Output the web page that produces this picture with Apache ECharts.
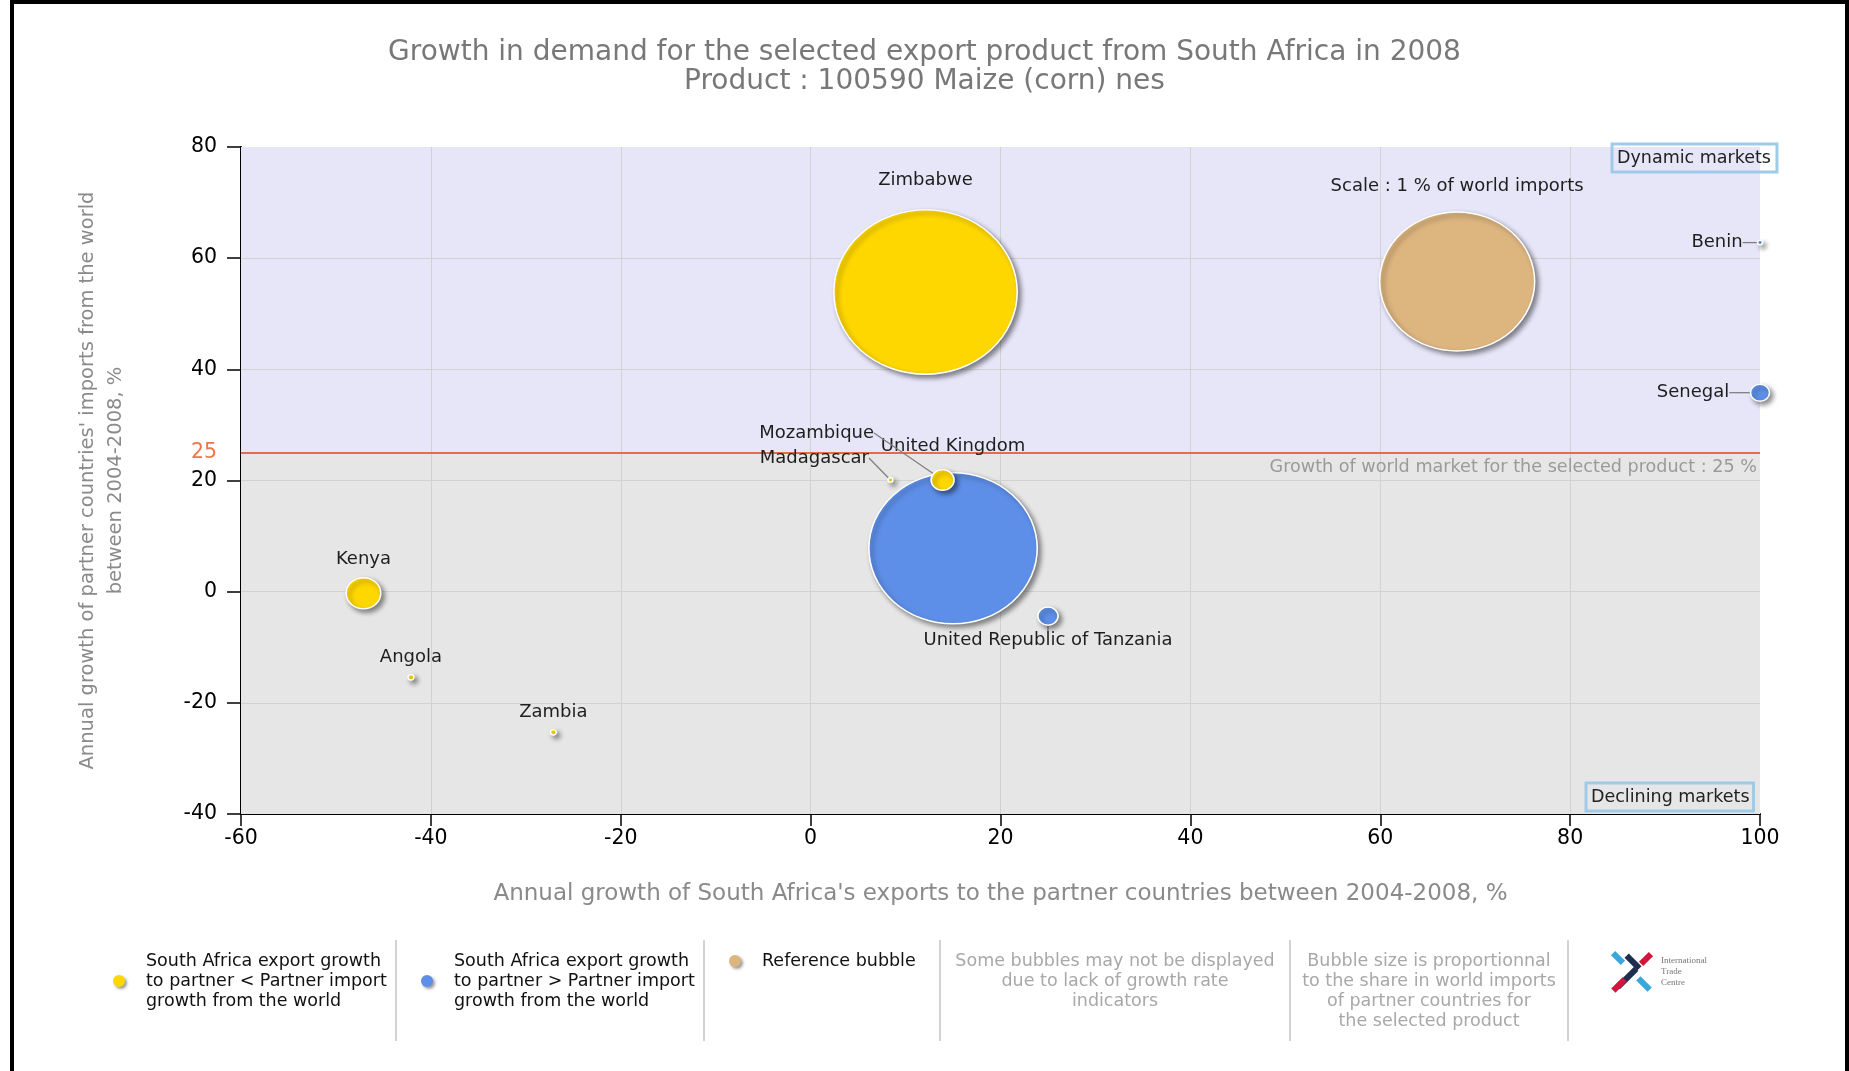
<!DOCTYPE html>
<html>
<head>
<meta charset="utf-8">
<script src="https://cdn.jsdelivr.net/npm/echarts@6/dist/echarts.min.js"></script>
<style>
html,body{margin:0;padding:0;background:#fff;}
#chart{width:1849px;height:1071px;}
</style>
</head>
<body>
<div id="chart"></div>
<script>
// ---------------- DATA ----------------
const titleLines = ['Growth in demand for the selected export product from South Africa in 2008',
                    'Product : 100590 Maize (corn) nes'];
const xAxisName = "Annual growth of South Africa's exports to the partner countries between 2004-2008, %";
const yAxisName = "Annual growth of partner countries' imports from the world\nbetween 2004-2008, %";

// Partners where SA export growth < partner import growth (yellow)
const yellowNames = ['Zimbabwe', 'Mozambique', 'Madagascar', 'Kenya', 'Angola', 'Zambia'];
const yellowX     = [12.1, 13.9, 8.4, -47.1, -42.1, -27.1];
const yellowY     = [53.9, 20.1, 20.1, -0.3, -15.4, -25.3];
const yellowShare = [1.40, 0.022, 0.001, 0.05, 0.0015, 0.0015];   // % of world imports

// Partners where SA export growth > partner import growth (blue)
const blueNames = ['United Kingdom', 'United Republic of Tanzania', 'Senegal', 'Benin'];
const blueX     = [15.0, 25.0, 100, 100];
const blueY     = [7.8, -4.4, 35.8, 62.8];
const blueShare = [1.18, 0.017, 0.015, 0.001];

// Reference bubble
const refNames = ['Scale : 1 % of world imports'];
const refX     = [68.1];
const refY     = [55.8];
const refShare = [1];

const worldGrowth = 25;
const xMin = -60, xMax = 100, xStep = 20;
const yMin = -40, yMax = 80, yStep = 20;

const legendTexts = [
  'South Africa export growth\nto partner < Partner import\ngrowth from the world',
  'South Africa export growth\nto partner > Partner import\ngrowth from the world',
  'Reference bubble'
];
const noteTexts = [
  'Some bubbles may not be displayed\ndue to lack of growth rate\nindicators',
  'Bubble size is proportionnal\nto the share in world imports\nof partner countries for\nthe selected product'
];

// ---------------- STYLE ----------------
const FONT = '"DejaVu Sans", Verdana, sans-serif';
const COL_YELLOW = '#FFD700';
const COL_BLUE = '#5E8FE8';
const COL_REF = '#DDB57F';

// bubble diameter (px) for 1 % of world imports (horizontal / vertical)
const D_W = 155, D_H = 139;
function sizeOf(share) {
  const k = Math.sqrt(share);
  return [Math.max(4, D_W * k), Math.max(4, D_H * k)];
}

// label placement (style only)
const labelConf = {
  'Zimbabwe': {position: 'top', distance: 20},
  'Mozambique': {position: 'inside', dx: -126, dy: -47, line: true},
  'Madagascar': {position: 'inside', dx: -76, dy: -22, line: true},
  'Kenya': {position: 'top', distance: 9},
  'Angola': {position: 'top', distance: 8},
  'Zambia': {position: 'top', distance: 8},
  'United Kingdom': {position: 'top', distance: 17},
  'United Republic of Tanzania': {position: 'inside', dx: 0, dy: 24, line: true},
  'Senegal': {position: 'inside', dx: -67, dy: 0, line: true},
  'Benin': {position: 'inside', dx: -43, dy: 0, line: true},
  'Scale : 1 % of world imports': {position: 'top', distance: 16}
};

function buildData(names, xs, ys, shares) {
  return names.map((n, i) => {
    const c = labelConf[n] || {position: 'top', distance: 8};
    return {
      name: n,
      value: [xs[i], ys[i], shares[i]],
      symbolSize: sizeOf(shares[i]),
      label: {position: c.position, distance: c.distance || 5},
      labelLine: {show: !!c.line}
    };
  });
}

function layoutFor(names) {
  return function (p) {
    const c = labelConf[names[p.dataIndex]] || {};
    return {dx: c.dx || 0, dy: c.dy || 0};
  };
}

const bubbleItem = (color) => ({
  color: color,
  borderColor: '#ffffff',
  borderWidth: 1.5,
  shadowBlur: 5,
  shadowColor: 'rgba(0,0,0,0.45)',
  shadowOffsetX: 3,
  shadowOffsetY: 3,
  opacity: 1
});

const labelBase = {
  show: true,
  formatter: '{b}',
  color: '#1e1e1e',
  fontSize: 18,
  fontFamily: FONT
};
const labelLineBase = {lineStyle: {color: '#808080', width: 1.3}};

function bubbleSeries(name, names, xs, ys, shares, color, z) {
  return {
    name: name,
    type: 'scatter',
    z: z,
    data: buildData(names, xs, ys, shares),
    itemStyle: bubbleItem(color),
    label: labelBase,
    labelLine: labelLineBase,
    labelLayout: layoutFor(names),
    emphasis: {disabled: true},
    silent: true
  };
}

// grid lines drawn above the coloured zones (but below bubbles)
const gridLineData = [];
for (let v = xMin + xStep; v < xMax; v += xStep) gridLineData.push({xAxis: v});
for (let v = yMin + yStep; v < yMax; v += yStep) gridLineData.push({yAxis: v});

const chart = echarts.init(document.getElementById('chart'), null, {renderer: 'canvas'});

const G = [];
// frame (black border of the original image)
G.push({type: 'rect', shape: {x: 10, y: 0, width: 1839, height: 4}, style: {fill: '#000'}, silent: true});
G.push({type: 'rect', shape: {x: 10, y: 0, width: 4, height: 1071}, style: {fill: '#000'}, silent: true});
G.push({type: 'rect', shape: {x: 1845, y: 0, width: 4, height: 1071}, style: {fill: '#000'}, silent: true});

const dotShadow = {shadowBlur: 3, shadowColor: 'rgba(0,0,0,0.4)', shadowOffsetX: 2, shadowOffsetY: 2};
G.push({type: 'circle', shape: {cx: 119, cy: 981, r: 6}, style: Object.assign({fill: COL_YELLOW}, dotShadow)});
G.push({type: 'text', x: 146, y: 951, style: {text: legendTexts[0], font: '17.5px ' + FONT, fill: '#111', lineHeight: 20}});
G.push({type: 'circle', shape: {cx: 427, cy: 981, r: 6}, style: Object.assign({fill: COL_BLUE}, dotShadow)});
G.push({type: 'text', x: 454, y: 951, style: {text: legendTexts[1], font: '17.5px ' + FONT, fill: '#111', lineHeight: 20}});
G.push({type: 'circle', shape: {cx: 735, cy: 961, r: 6}, style: Object.assign({fill: COL_REF}, dotShadow)});
G.push({type: 'text', x: 762, y: 951, style: {text: legendTexts[2], font: '17.5px ' + FONT, fill: '#111', lineHeight: 20}});
G.push({type: 'text', x: 1115, y: 951, style: {text: noteTexts[0], font: '17.5px ' + FONT, fill: '#a8a8a8', lineHeight: 20, align: 'center'}});
G.push({type: 'text', x: 1429, y: 951, style: {text: noteTexts[1], font: '17.5px ' + FONT, fill: '#a8a8a8', lineHeight: 20, align: 'center'}});
[396, 704, 940, 1290, 1568].forEach(x => {
  G.push({type: 'line', shape: {x1: x, y1: 940, x2: x, y2: 1041}, style: {stroke: '#b4b4b4', lineWidth: 1.2}});
});
// ITC logo (approximation)
function bar(cx, cy, w, h, rot, color) {
  return {type: 'rect', x: cx, y: cy, rotation: rot, shape: {x: -w / 2, y: -h / 2, width: w, height: h}, style: {fill: color}};
}
G.push(bar(1618, 958, 14, 6, -Math.PI / 4, '#3aa6dc'));
G.push(bar(1633, 962, 18, 6, -Math.PI / 4, '#1f2d4f'));
G.push(bar(1646, 959, 14, 6, Math.PI / 4, '#d2163c'));
G.push(bar(1627, 978, 26, 6, Math.PI / 4, '#1f2d4f'));
G.push(bar(1619, 985, 16, 6, Math.PI / 4, '#d2163c'));
G.push(bar(1644, 984, 16, 6, -Math.PI / 4, '#3aa6dc'));
G.push({type: 'text', x: 1661, y: 955, style: {text: 'International\nTrade\nCentre', font: '9px "Liberation Serif", serif', fill: '#777', lineHeight: 11}});

// quadrant boxes
G.push({type: 'text', x: 1612, y: 144, z: 10,
  style: {text: 'Dynamic markets', font: '17.5px ' + FONT, fill: '#222', padding: [5, 6, 5, 5],
          borderColor: '#9fcbe8', borderWidth: 1.5, backgroundColor: 'rgba(255,255,255,0)'}});
G.push({type: 'text', x: 1586, y: 783, z: 10,
  style: {text: 'Declining markets', font: '17.5px ' + FONT, fill: '#222', padding: [5, 4, 5, 5],
          borderColor: '#9fcbe8', borderWidth: 1.5, backgroundColor: 'rgba(255,255,255,0)'}});

const TITLE_STYLE = {fontFamily: FONT, fontSize: 28, lineHeight: 30, fontWeight: 'normal', color: '#787878'};

const option = {
  backgroundColor: '#ffffff',
  animation: false,
  title: [
    {text: titleLines[0], left: 'center', top: 38, padding: 0, textStyle: TITLE_STYLE},
    {text: titleLines[1], left: 'center', top: 67, padding: 0, textStyle: TITLE_STYLE}
  ],
  grid: {left: 241, right: 89, top: 147, bottom: 257, containLabel: false},
  xAxis: {
    type: 'value', min: xMin, max: xMax, interval: xStep,
    name: xAxisName, nameLocation: 'middle', nameGap: 69,
    nameTextStyle: {fontFamily: FONT, fontSize: 23, color: '#8a8a8a'},
    axisLine: {show: true, onZero: false, lineStyle: {color: '#000', width: 2}},
    axisTick: {show: true, length: 12, lineStyle: {color: '#000', width: 1.5}},
    axisLabel: {color: '#000', fontSize: 20.5, fontFamily: FONT, margin: 14},
    splitLine: {show: false}
  },
  yAxis: {
    type: 'value', min: yMin, max: yMax, interval: yStep,
    name: yAxisName, nameLocation: 'middle', nameGap: 111,
    nameTextStyle: {fontFamily: FONT, fontSize: 19.5, color: '#8a8a8a', lineHeight: 28, align: 'center'},
    axisLine: {show: true, onZero: false, lineStyle: {color: '#000', width: 2}},
    axisTick: {show: true, length: 14, lineStyle: {color: '#000', width: 1.5}},
    axisLabel: {color: '#000', fontSize: 20.5, fontFamily: FONT, margin: 24},
    splitLine: {show: false}
  },
  graphic: G,
  series: [
    {
      name: 'zones',
      type: 'scatter',
      z: 1,
      silent: true,
      data: [],
      markArea: {
        silent: true,
        z: 1,
        data: [
          [{yAxis: worldGrowth, itemStyle: {color: '#e6e6f8'}}, {yAxis: yMax}],
          [{yAxis: yMin, itemStyle: {color: '#e6e6e6'}}, {yAxis: worldGrowth}]
        ]
      },
      markLine: {
        silent: true,
        z: 1.5,
        symbol: ['none', 'none'],
        label: {show: false},
        lineStyle: {color: '#d2d2d2', width: 1, type: 'solid'},
        data: gridLineData
      }
    },
    {
      name: 'world',
      type: 'scatter',
      z: 2,
      silent: true,
      data: [],
      markLine: {
        silent: true,
        z: 2,
        symbol: ['none', 'none'],
        lineStyle: {color: '#e8633c', width: 1.5, type: 'solid'},
        data: [
          {yAxis: worldGrowth,
           label: {show: true, position: 'start', formatter: String(worldGrowth), distance: 24,
                   color: '#f07448', fontSize: 20.5, fontFamily: FONT}},
          {yAxis: worldGrowth,
           label: {show: true, position: 'insideEndBottom', distance: [3, 6],
                   formatter: 'Growth of world market for the selected product : ' + worldGrowth + ' %',
                   color: '#9a9a9a', fontSize: 17.6, fontFamily: FONT}}
        ]
      }
    },
    bubbleSeries('South Africa export growth to partner > Partner import growth from the world',
                 blueNames, blueX, blueY, blueShare, COL_BLUE, 3),
    bubbleSeries('South Africa export growth to partner < Partner import growth from the world',
                 yellowNames, yellowX, yellowY, yellowShare, COL_YELLOW, 4),
    bubbleSeries('Reference bubble', refNames, refX, refY, refShare, COL_REF, 3)
  ]
};
chart.setOption(option);
</script>
</body>
</html>
